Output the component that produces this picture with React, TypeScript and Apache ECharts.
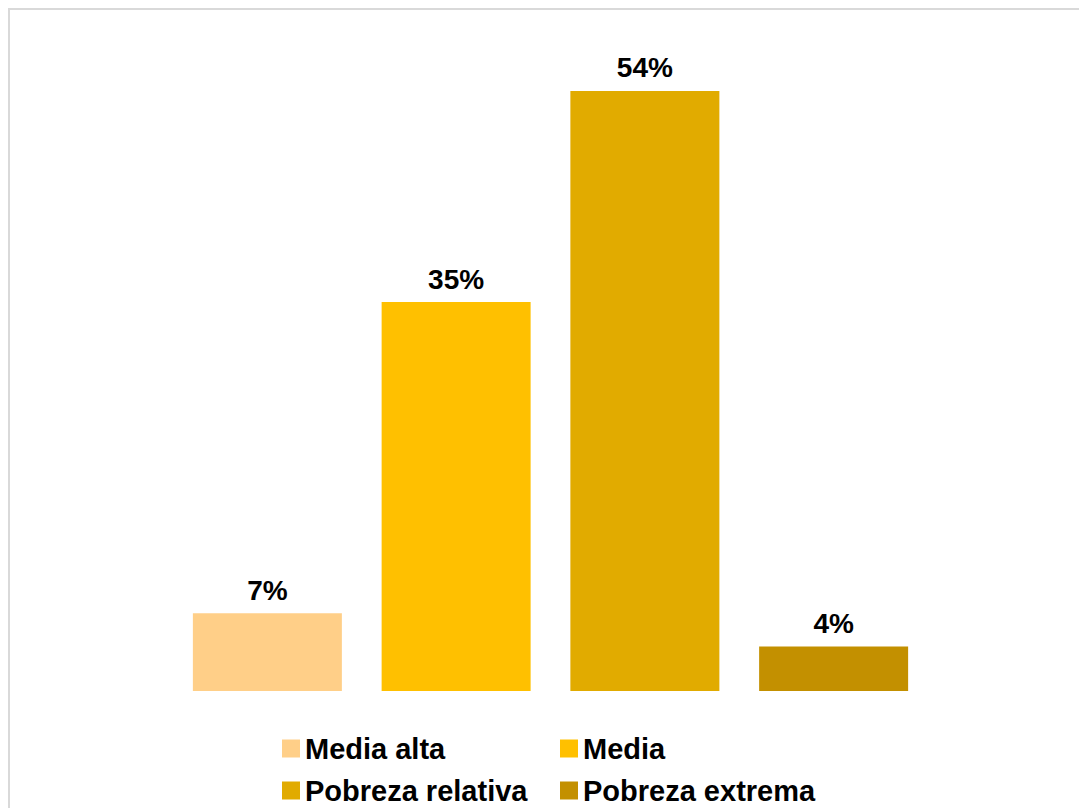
import React, { useEffect, useRef } from "react";
import * as echarts from "echarts";

const categories = ["Media alta", "Media", "Pobreza relativa", "Pobreza extrema"];
const values = [7, 35, 54, 4];
const colors = ["#FFCF88", "#FFC000", "#E1AB00", "#C39000"];
const FONT = "'Liberation Sans', Arial, sans-serif";

export default function App() {
  const ref = useRef<HTMLDivElement>(null);
  useEffect(() => {
    document.documentElement.style.overflow = "hidden";
    document.body.style.overflow = "hidden";
    const chart = echarts.init(ref.current!, null, { renderer: "svg" });
    const series = categories.map((name, i) => ({
      name,
      type: "bar",
      stack: "all",
      barWidth: 149,
      itemStyle: { color: colors[i] },
      data: categories.map((_, j) => (j === i ? values[i] : "-")),
      label: {
        show: true,
        position: "top",
        distance: 9,
        formatter: "{c}%",
        color: "#000",
        fontFamily: FONT,
        fontWeight: "bold",
        fontSize: 28,
      },
    }));
    const legendText = {
      color: "#000",
      fontFamily: FONT,
      fontWeight: "bold",
      fontSize: 29,
      lineHeight: 28,
    };
    chart.setOption({
      animation: false,
      grid: { left: 163, width: 755, top: 14.33, height: 666.67 },
      xAxis: {
        type: "category",
        data: categories,
        show: false,
      },
      yAxis: { type: "value", min: 0, max: 60, show: false },
      legend: [
        {
          data: [categories[0], categories[2]],
          orient: "vertical",
          left: 267,
          top: 719,
          itemWidth: 18,
          itemHeight: 18,
          itemGap: 13,
          icon: "rect",
          textStyle: legendText,
        },
        {
          data: [categories[1], categories[3]],
          orient: "vertical",
          left: 545,
          top: 719,
          itemWidth: 18,
          itemHeight: 18,
          itemGap: 13,
          icon: "rect",
          textStyle: legendText,
        },
      ],
      series,
    });
    return () => chart.dispose();
  }, []);
  return (
    <div style={{ border: "2px solid #d9d9d9", width: 1100, height: 820, boxSizing: "content-box" }}>
      <div ref={ref} style={{ width: 1100, height: 820 }} />
    </div>
  );
}
